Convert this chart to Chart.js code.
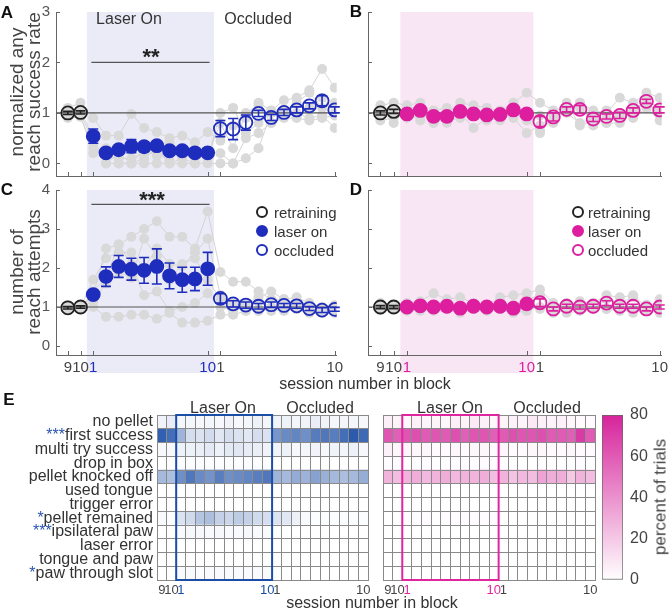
<!DOCTYPE html>
<html>
<head>
<meta charset="utf-8">
<title>Reaching with laser on / occluded</title>
<script src="https://cdn.jsdelivr.net/npm/chart.js@4.4.0/dist/chart.umd.min.js"></script>
<style>
  html, body { margin: 0; padding: 0; background: #fff; }
  body { position: relative; width: 670px; height: 614px; overflow: hidden;
         font-family: 'Liberation Sans', Arial, Helvetica, sans-serif; color: #333; }
  canvas { position: absolute; }
  .t { position: absolute; transform: translate(-50%, -50%); white-space: nowrap; line-height: 1; font-size: 16px; }
  .panel { font-weight: bold; font-size: 17px; color: #111; }
  .ytitle { font-size: 19px; line-height: 17px; text-align: center; color: #444;
            transform: translate(-50%, -50%) rotate(-90deg); }
  .stars { font-weight: bold; font-size: 22px; color: #222; }
  .leg { position: absolute; font-size: 15px; line-height: 1; transform: translateY(-50%); white-space: nowrap; color: #333; }
  .mk { position: absolute; box-sizing: border-box; width: 12px; height: 12px; border-radius: 50%;
        transform: translate(-50%, -50%); }
</style>
</head>
<body>
<canvas id="cA" width="345" height="185" style="left:0;top:0"></canvas>
<canvas id="cB" width="325" height="185" style="left:345px;top:0"></canvas>
<canvas id="cC" width="345" height="200" style="left:0;top:180px"></canvas>
<canvas id="cD" width="325" height="200" style="left:345px;top:180px"></canvas>
<canvas id="cEL" width="372" height="200" style="left:0;top:400px"></canvas>
<canvas id="cER" width="230" height="200" style="left:372px;top:400px"></canvas>
<canvas id="cCB" width="75" height="200" style="left:595px;top:400px"></canvas>

<div class="t panel" style="left:7px;top:12px">A</div>
<div class="t panel" style="left:356px;top:11px">B</div>
<div class="t panel" style="left:7px;top:189px">C</div>
<div class="t panel" style="left:356px;top:189px">D</div>
<div class="t panel" style="left:9px;top:399px">E</div>

<div class="t ytitle" style="left:25px;top:92px">normalized any<br>reach success rate</div>
<div class="t ytitle" style="left:25px;top:272px">number of<br>reach attempts</div>

<div class="t" style="left:129px;top:19px">Laser On</div>
<div class="t" style="left:258px;top:19px">Occluded</div>
<div class="t stars" style="left:151px;top:57px">**</div>
<div class="t stars" style="left:152px;top:200px">***</div>

<div class="mk" style="left:262px;top:212px;border:2px solid #222"></div>
<div class="leg" style="left:274px;top:212px">retraining</div>
<div class="mk" style="left:262px;top:231px;background:#1f2dbd;border:2px solid #1f2dbd"></div>
<div class="leg" style="left:274px;top:231px">laser on</div>
<div class="mk" style="left:262px;top:250px;border:2px solid #1f2dbd"></div>
<div class="leg" style="left:274px;top:250px">occluded</div>

<div class="mk" style="left:578px;top:212px;border:2px solid #222"></div>
<div class="leg" style="left:588px;top:212px">retraining</div>
<div class="mk" style="left:578px;top:231px;background:#dd1f9f;border:2px solid #dd1f9f"></div>
<div class="leg" style="left:588px;top:231px">laser on</div>
<div class="mk" style="left:578px;top:250px;border:2px solid #dd1f9f"></div>
<div class="leg" style="left:588px;top:250px">occluded</div>

<div class="t" style="left:365px;top:384px">session number in block</div>

<div class="t" style="left:223px;top:408px">Laser On</div>
<div class="t" style="left:320px;top:408px">Occluded</div>
<div class="t" style="left:450px;top:408px">Laser On</div>
<div class="t" style="left:547px;top:408px">Occluded</div>
<div class="t" style="left:372px;top:603px">session number in block</div>
<div class="t ytitle" style="left:660px;top:497px;font-size:17px">percent of trials</div>

<script>
// ---- data ----
// sessions: retraining 9-10, laser on 1-10, occluded 1-10
const sessionLabels = ['9','10','1','2','3','4','5','6','7','8','9','10','1','2','3','4','5','6','7','8','9','10'];
const labelledSessions = [0, 1, 2, 11, 12, 21];
const laserFirst = 2;
const laserLast = 11;

// A - normalized any reach success rate (blue group)
const successMeanBlue = [1.00, 1.01, 0.54, 0.21, 0.27, 0.34, 0.33, 0.35, 0.25, 0.25, 0.21, 0.21, 0.69, 0.68, 0.81, 0.99, 0.91, 1.01, 1.06, 1.14, 1.24, 1.06];
const successErrBlue  = [0.03, 0.03, 0.14, 0.05, 0.06, 0.13, 0.10, 0.08, 0.07, 0.08, 0.06, 0.07, 0.16, 0.21, 0.15, 0.06, 0.06, 0.06, 0.06, 0.06, 0.10, 0.06];
const successMiceBlue = [
  [1.10, 1.20, 0.90, 0.55, 0.55, 0.98, 0.70, 0.62, 0.50, 0.55, 0.42, 0.62, 0.45, 0.75, 0.90, 1.20, 1.05, 1.25, 1.30, 1.45, 1.87, 1.50],
  [0.90, 0.92, 0.30, 0.15, 0.10, 0.10, 0.20, 0.20, 0.05, 0.30, 0.20, 0.10, 1.00, 1.10, 0.60, 0.80, 1.00, 1.00, 0.95, 1.10, 1.30, 1.00],
  [1.00, 1.00, 0.40, 0.00, 0.20, 0.00, 0.30, 0.15, 0.40, 0.25, 0.20, 0.15, 0.80, 0.30, 1.00, 1.15, 0.80, 1.00, 1.20, 1.40, 1.10, 1.20],
  [0.95, 1.05, 0.50, 0.00, 0.00, 0.00, 0.00, 0.00, 0.00, 0.00, 0.00, 0.00, 0.00, 0.00, 0.50, 0.60, 0.80, 0.90, 0.90, 0.85, 0.90, 0.95],
  [1.05, 0.95, 0.20, 0.30, 0.00, 0.00, 0.10, 0.30, 0.00, 0.10, 0.00, 0.25, 0.20, 0.00, 0.10, 0.30, 1.00, 1.05, 1.00, 0.90, 0.95, 0.70]
];

// B - normalized any reach success rate (pink group)
const successMeanPink = [1.00, 1.03, 0.98, 1.05, 0.93, 0.93, 1.03, 0.98, 0.96, 0.97, 1.06, 0.98, 0.83, 0.92, 1.07, 1.07, 0.88, 0.93, 0.95, 1.05, 1.23, 1.06];
const successErrPink  = [0.04, 0.04, 0.05, 0.06, 0.07, 0.09, 0.05, 0.05, 0.05, 0.04, 0.05, 0.08, 0.10, 0.08, 0.05, 0.08, 0.05, 0.05, 0.06, 0.05, 0.04, 0.06];
const successMicePink = [
  [1.15, 1.20, 1.15, 1.20, 0.80, 1.00, 1.20, 1.15, 1.10, 1.05, 1.20, 1.40, 1.20, 1.05, 1.10, 1.20, 1.05, 1.00, 1.30, 1.20, 1.40, 1.30],
  [0.95, 1.00, 0.90, 0.95, 0.90, 0.80, 1.10, 0.95, 0.85, 0.90, 1.00, 0.85, 0.65, 0.85, 1.20, 0.75, 0.85, 1.05, 0.85, 1.10, 1.20, 1.00],
  [0.85, 0.90, 1.00, 0.85, 1.05, 1.10, 1.00, 0.70, 0.90, 1.00, 0.90, 0.60, 0.75, 0.95, 1.00, 0.80, 0.90, 0.80, 1.00, 0.90, 1.10, 0.85],
  [1.05, 0.80, 1.10, 1.10, 1.00, 0.85, 0.90, 1.10, 1.00, 0.95, 1.10, 1.00, 0.60, 0.95, 1.05, 1.20, 0.75, 0.90, 0.90, 1.00, 1.25, 1.10],
  [1.00, 1.10, 0.95, 1.00, 0.80, 0.90, 0.95, 1.00, 1.05, 0.85, 1.10, 0.90, 0.95, 0.80, 1.10, 1.10, 0.85, 0.80, 0.80, 1.05, 1.20, 0.95]
];

// C - number of reach attempts (blue group)
const attemptsMeanBlue = [0.98, 1.00, 1.32, 1.78, 2.04, 1.97, 1.94, 2.04, 1.80, 1.70, 1.72, 1.98, 1.22, 1.08, 1.05, 1.02, 1.06, 1.04, 1.03, 0.96, 0.92, 0.94];
const attemptsErrBlue  = [0.03, 0.03, 0.07, 0.25, 0.28, 0.28, 0.33, 0.45, 0.33, 0.32, 0.30, 0.42, 0.12, 0.08, 0.08, 0.07, 0.07, 0.05, 0.06, 0.05, 0.06, 0.05];
const attemptsMiceBlue = [
  [1.00, 1.00, 1.30, 2.50, 2.60, 2.80, 3.00, 3.20, 2.80, 2.80, 2.50, 3.45, 1.90, 1.65, 1.65, 1.40, 1.20, 1.20, 1.10, 1.05, 0.90, 0.95],
  [1.05, 1.00, 1.70, 2.25, 2.40, 2.40, 2.00, 2.50, 2.10, 2.05, 2.40, 2.75, 1.30, 1.10, 1.00, 1.15, 1.00, 0.95, 1.05, 1.00, 0.95, 0.90],
  [0.95, 0.98, 1.15, 1.60, 1.90, 1.75, 2.75, 2.30, 1.70, 2.10, 2.25, 1.70, 1.20, 1.00, 1.10, 1.25, 1.40, 1.20, 1.25, 1.10, 1.00, 1.05],
  [0.98, 1.02, 1.00, 0.75, 0.75, 0.80, 0.80, 0.70, 0.85, 0.60, 0.60, 0.65, 0.80, 0.80, 0.90, 0.95, 0.90, 1.05, 0.95, 0.90, 0.85, 0.85],
  [1.00, 0.97, 1.40, 1.75, 2.60, 2.10, 1.30, 1.40, 0.90, 1.00, 1.10, 1.35, 1.00, 0.90, 1.00, 0.90, 0.95, 0.90, 0.95, 0.85, 0.85, 0.95]
];

// D - number of reach attempts (pink group)
const attemptsMeanPink = [1.00, 1.00, 1.00, 1.03, 1.00, 1.02, 0.97, 1.02, 1.00, 1.02, 0.97, 1.08, 1.11, 0.95, 1.02, 1.00, 1.02, 1.10, 1.02, 1.02, 0.95, 1.00];
const attemptsErrPink  = [0.04, 0.04, 0.04, 0.04, 0.04, 0.05, 0.04, 0.04, 0.04, 0.04, 0.04, 0.08, 0.10, 0.05, 0.05, 0.05, 0.05, 0.06, 0.05, 0.05, 0.05, 0.05];
const attemptsMicePink = [
  [1.10, 1.05, 1.10, 1.15, 1.35, 1.20, 1.25, 1.10, 1.05, 1.25, 1.30, 1.35, 1.45, 1.10, 1.00, 1.15, 1.10, 1.30, 1.25, 1.30, 1.00, 1.10],
  [0.95, 1.00, 0.90, 1.00, 0.95, 1.10, 0.95, 1.05, 1.00, 1.15, 0.90, 1.20, 1.30, 0.85, 1.10, 1.00, 0.95, 1.20, 1.10, 1.25, 0.90, 1.20],
  [1.00, 0.95, 0.95, 0.90, 1.05, 0.95, 0.85, 0.95, 0.90, 1.00, 1.05, 1.00, 0.95, 0.95, 0.85, 0.90, 1.00, 0.95, 0.90, 0.95, 1.05, 0.90],
  [0.92, 0.98, 1.00, 1.05, 0.90, 1.00, 1.00, 0.95, 1.05, 0.95, 0.85, 0.90, 1.00, 1.05, 1.05, 0.95, 1.10, 0.95, 0.95, 0.85, 1.05, 0.85]
];

// E - percent of trials per outcome (rows) and session (columns)
const outcomeLabels = ['no pellet', 'first success', 'multi try success', 'drop in box', 'pellet knocked off',
  'used tongue', 'trigger error', 'pellet remained', 'ipsilateral paw', 'laser error', 'tongue and paw', 'paw through slot'];
const outcomeStars = ['', '***', '', '', '', '', '', '*', '***', '', '', '*'];
const outcomeBlue = [
  [5, 8, 4, 4, 3, 4, 3, 5, 3, 4, 6, 4, 5, 6, 4, 5, 7, 5, 4, 4, 4, 3],
  [68, 62, 32, 14, 12, 15, 10, 14, 12, 10, 14, 12, 45, 50, 52, 48, 56, 58, 55, 62, 70, 64],
  [3, 3, 6, 6, 7, 9, 6, 9, 10, 8, 7, 5, 5, 6, 3, 4, 5, 3, 5, 4, 6, 3],
  [0, 0, 1, 1, 1, 1, 1, 1, 1, 1, 1, 1, 0, 0, 0, 1, 0, 0, 0, 0, 0, 0],
  [30, 28, 48, 58, 50, 46, 55, 48, 50, 52, 55, 58, 32, 30, 36, 33, 40, 34, 30, 28, 30, 35],
  [0, 0, 0, 0, 0, 0, 0, 0, 0, 0, 0, 0, 0, 0, 0, 0, 0, 0, 0, 0, 0, 0],
  [0, 0, 0, 0, 0, 0, 0, 0, 0, 0, 0, 0, 0, 0, 0, 0, 0, 0, 0, 0, 0, 0],
  [2, 1, 12, 16, 25, 28, 20, 18, 22, 20, 16, 14, 12, 10, 6, 2, 1, 1, 1, 1, 1, 1],
  [0, 0, 2, 3, 3, 2, 3, 2, 2, 3, 2, 2, 1, 0, 0, 0, 0, 0, 0, 0, 0, 0],
  [0, 0, 0, 0, 0, 0, 0, 0, 0, 0, 0, 0, 0, 0, 0, 0, 0, 0, 0, 0, 0, 0],
  [0, 0, 0, 0, 0, 0, 0, 0, 0, 0, 0, 0, 0, 0, 0, 0, 0, 0, 0, 0, 0, 0],
  [0, 0, 2, 2, 1, 2, 2, 2, 2, 2, 2, 2, 1, 0, 0, 0, 0, 0, 0, 0, 0, 0]
];
const outcomePink = [
  [6, 4, 3, 5, 4, 4, 3, 6, 4, 8, 5, 3, 4, 5, 4, 8, 5, 4, 5, 3, 2, 2],
  [62, 58, 62, 64, 60, 62, 60, 64, 58, 62, 62, 58, 60, 64, 62, 62, 64, 60, 60, 58, 72, 60],
  [5, 3, 4, 3, 3, 2, 2, 3, 2, 3, 3, 2, 3, 2, 2, 3, 3, 2, 2, 3, 2, 2],
  [1, 1, 0, 1, 1, 0, 1, 1, 1, 1, 2, 1, 0, 1, 0, 0, 1, 0, 0, 0, 1, 0],
  [28, 24, 28, 30, 26, 28, 30, 26, 28, 28, 30, 24, 28, 22, 26, 24, 34, 30, 30, 20, 28, 24],
  [0, 0, 0, 0, 0, 0, 0, 0, 0, 0, 0, 0, 0, 0, 0, 0, 0, 0, 0, 0, 0, 0],
  [0, 0, 0, 0, 0, 0, 0, 0, 0, 0, 0, 0, 0, 0, 0, 0, 0, 0, 0, 0, 0, 0],
  [0, 0, 1, 1, 1, 0, 1, 1, 1, 1, 1, 1, 0, 0, 0, 0, 0, 0, 0, 0, 0, 0],
  [0, 0, 0, 0, 0, 0, 0, 0, 0, 0, 0, 0, 0, 0, 0, 0, 0, 0, 0, 0, 0, 0],
  [0, 0, 0, 0, 0, 0, 0, 0, 0, 0, 0, 0, 0, 0, 0, 0, 0, 0, 0, 0, 0, 0],
  [0, 0, 0, 0, 0, 0, 0, 0, 0, 0, 0, 0, 0, 0, 0, 0, 0, 0, 0, 0, 0, 0],
  [0, 0, 0, 0, 0, 0, 0, 0, 0, 0, 0, 0, 0, 0, 0, 0, 0, 0, 0, 0, 0, 0]
];
const colorbarTicks = [0, 20, 40, 60, 80];

// ---- styling ----
const BLUE = '#1f2dbd';
const PINK = '#dd1f9f';
const BLUE_HEAT = [14, 68, 162];
const PINK_HEAT = [214, 36, 155];
const AXIS = '#666';
const CELL_EDGE = '#8a8a8a';

Chart.defaults.font.family = "'Liberation Sans', Arial, Helvetica, sans-serif";
Chart.defaults.animation = false;
Chart.defaults.plugins.legend.display = false;
Chart.defaults.plugins.tooltip.enabled = false;

const isLaser = i => i >= laserFirst && i <= laserLast;

// shading, reference line, error bars, significance bar, inward ticks
const sessionDeco = {
  id: 'sessionDeco',
  beforeDraw(chart, args, o) {
    const {ctx, chartArea: a, scales: {x}} = chart;
    const x0 = x.getPixelForValue(laserFirst - 0.5);
    const x1 = x.getPixelForValue(laserLast + 0.5);
    ctx.save();
    ctx.fillStyle = o.shade;
    ctx.fillRect(x0, a.top, x1 - x0, a.bottom - a.top + o.shadeBelow);
    ctx.restore();
  },
  beforeDatasetDraw(chart, args) {
    if (!chart.data.datasets[args.index].isMean) return;
    const {ctx, chartArea: a, scales: {y}} = chart;
    const yy = y.getPixelForValue(1);
    ctx.save();
    ctx.strokeStyle = '#555';
    ctx.lineWidth = 1.2;
    ctx.beginPath(); ctx.moveTo(a.left, yy); ctx.lineTo(a.right, yy); ctx.stroke();
    ctx.restore();
  },
  afterDatasetsDraw(chart, args, o) {
    const {ctx, chartArea: a, scales: {x, y}} = chart;
    ctx.save();
    // error bars
    ctx.lineWidth = 1.6;
    o.mean.forEach((m, i) => {
      const px = x.getPixelForValue(i);
      const yt = y.getPixelForValue(m + o.err[i]);
      const yb = y.getPixelForValue(m - o.err[i]);
      ctx.strokeStyle = i < laserFirst ? '#222' : o.color;
      ctx.beginPath();
      ctx.moveTo(px, yt); ctx.lineTo(px, yb);
      ctx.moveTo(px - 5, yt); ctx.lineTo(px + 5, yt);
      ctx.moveTo(px - 5, yb); ctx.lineTo(px + 5, yb);
      ctx.stroke();
    });
    // significance bar
    if (o.sig) {
      const ys = y.getPixelForValue(o.sig.y);
      ctx.strokeStyle = '#555';
      ctx.lineWidth = 1.2;
      ctx.beginPath();
      ctx.moveTo(x.getPixelForValue(o.sig.from), ys);
      ctx.lineTo(x.getPixelForValue(o.sig.to), ys);
      ctx.stroke();
    }
    // inward tick marks
    ctx.strokeStyle = AXIS;
    ctx.lineWidth = 1;
    ctx.beginPath();
    labelledSessions.forEach(v => {
      const px = Math.round(x.getPixelForValue(v)) + 0.5;
      ctx.moveTo(px, a.bottom); ctx.lineTo(px, a.bottom - 4);
    });
    o.yTicks.forEach(v => {
      const py = Math.round(y.getPixelForValue(v)) + 0.5;
      ctx.moveTo(a.left, py); ctx.lineTo(a.left + 4, py);
    });
    ctx.stroke();
    ctx.restore();
  }
};

function sessionPanel(id, cfg) {
  const meanSet = {
    isMean: true,
    data: cfg.mean.map((v, i) => ({x: i, y: v})),
    showLine: false,
    pointRadius: 6.5,
    pointBorderWidth: 1.8,
    pointBackgroundColor: cfg.mean.map((v, i) => isLaser(i) ? cfg.color : 'rgba(0,0,0,0)'),
    pointBorderColor: cfg.mean.map((v, i) => i < laserFirst ? '#222' : cfg.color)
  };
  const miceSets = cfg.mice.map(m => ({
    data: m.map((v, i) => ({x: i, y: v})),
    showLine: true,
    borderColor: '#d4d4d4',
    borderWidth: 1,
    pointRadius: 5,
    pointBorderWidth: 0,
    pointBackgroundColor: '#d9d9d9'
  }));
  return new Chart(document.getElementById(id), {
    type: 'scatter',
    data: {datasets: [meanSet].concat(miceSets)},
    options: {
      responsive: false,
      layout: {padding: {top: cfg.padTop, right: cfg.padRight, left: 0, bottom: 0}},
      scales: {
        x: {
          type: 'linear', min: -0.93, max: 21.15,
          afterBuildTicks: s => { s.ticks = labelledSessions.map(v => ({value: v})); },
          afterFit: s => { s.height = cfg.xHeight; s.paddingLeft = 0; s.paddingRight = 0; },
          grid: {drawOnChartArea: false, drawTicks: false},
          border: {color: AXIS},
          ticks: {
            display: cfg.xLabels, autoSkip: false, maxRotation: 0, padding: 4,
            font: {size: 15},
            color: c => (c.tick && isLaser(c.tick.value)) ? cfg.color : '#444',
            callback: v => sessionLabels[v]
          }
        },
        y: {
          min: cfg.yMin, max: cfg.yMax,
          afterBuildTicks: s => { s.ticks = cfg.yTicks.map(v => ({value: v})); },
          afterFit: s => { s.width = cfg.yWidth; s.paddingTop = 0; s.paddingBottom = 0; },
          grid: {drawOnChartArea: false, drawTicks: false},
          border: {color: AXIS},
          ticks: {display: cfg.yLabels, padding: 6, font: {size: 15}, color: '#555'}
        }
      },
      plugins: {
        sessionDeco: {
          shade: cfg.shade, shadeBelow: cfg.shadeBelow, mean: cfg.mean, err: cfg.err,
          color: cfg.color, sig: cfg.sig, yTicks: cfg.yTicks
        }
      }
    },
    plugins: [sessionDeco]
  });
}

const rateTicks = [0, 1, 2, 3];
const attemptTicks = [0, 1, 2, 3, 4];

sessionPanel('cA', {mean: successMeanBlue, err: successErrBlue, mice: successMiceBlue, color: BLUE,
  shade: '#ebebf8', shadeBelow: 0, yMin: -0.25, yMax: 3, yTicks: rateTicks, yLabels: true, xLabels: false,
  yWidth: 56, xHeight: 9, padTop: 12, padRight: 3, sig: {y: 2, from: 1.85, to: 11.15}});
sessionPanel('cB', {mean: successMeanPink, err: successErrPink, mice: successMicePink, color: PINK,
  shade: '#f9e6f4', shadeBelow: 0, yMin: -0.25, yMax: 3, yTicks: rateTicks, yLabels: false, xLabels: false,
  yWidth: 23, xHeight: 9, padTop: 12, padRight: 5});
sessionPanel('cC', {mean: attemptsMeanBlue, err: attemptsErrBlue, mice: attemptsMiceBlue, color: BLUE,
  shade: '#ebebf8', shadeBelow: 18, yMin: -0.23, yMax: 4, yTicks: attemptTicks, yLabels: true, xLabels: true,
  yWidth: 56, xHeight: 25, padTop: 10, padRight: 3, sig: {y: 3.63, from: 1.85, to: 11.15}});
sessionPanel('cD', {mean: attemptsMeanPink, err: attemptsErrPink, mice: attemptsMicePink, color: PINK,
  shade: '#f9e6f4', shadeBelow: 18, yMin: -0.23, yMax: 4, yTicks: attemptTicks, yLabels: false, xLabels: true,
  yWidth: 23, xHeight: 25, padTop: 10, padRight: 5});

// ---- heatmaps ----
const colorMax = colorbarTicks[colorbarTicks.length - 1];
function heatColor(rgb, v) {
  const f = Math.max(0, Math.min(1, v / colorMax));
  const c = rgb.map(k => Math.round(255 - f * (255 - k)));
  return `rgb(${c[0]},${c[1]},${c[2]})`;
}

const heatDeco = {
  id: 'heatDeco',
  afterDraw(chart, args, o) {
    const {ctx, chartArea: a, scales: {x, y}} = chart;
    const half = (x.getPixelForValue(1) - x.getPixelForValue(0)) / 2;
    ctx.save();
    ctx.strokeStyle = o.boxColor;
    ctx.lineWidth = 2;
    const x0 = x.getPixelForValue(laserFirst) - half;
    const x1 = x.getPixelForValue(laserLast) + half;
    ctx.strokeRect(x0, a.top, x1 - x0, a.bottom - a.top);
    if (o.rowLabels) {
      ctx.font = "16px 'Liberation Sans', Arial, sans-serif";
      ctx.textAlign = 'right';
      ctx.textBaseline = 'middle';
      const n = outcomeLabels.length;
      outcomeLabels.forEach((lab, r) => {
        const py = y.getPixelForValue(n - r - 0.5);
        const px = a.left - 4;
        ctx.fillStyle = '#333';
        ctx.fillText(lab, px, py);
        if (outcomeStars[r]) {
          ctx.fillStyle = '#2a55b0';
          ctx.fillText(outcomeStars[r], px - ctx.measureText(lab).width, py);
        }
      });
    }
    ctx.restore();
  }
};

function heatmap(id, cfg) {
  const datasets = [];
  for (let r = cfg.values.length - 1; r >= 0; r--) {
    const row = cfg.values[r];
    datasets.push({
      data: row.map(() => 1),
      backgroundColor: row.map(v => heatColor(cfg.rgb, v)),
      borderWidth: 0,
      barPercentage: 1,
      categoryPercentage: 1
    });
  }
  return new Chart(document.getElementById(id), {
    type: 'bar',
    data: {labels: sessionLabels, datasets},
    options: {
      responsive: false,
      layout: {padding: {top: 15, right: cfg.padRight, left: 0, bottom: 0}},
      scales: {
        x: {
          stacked: true,
          grid: {offset: true, color: CELL_EDGE, drawTicks: false, z: 1},
          border: {color: CELL_EDGE, z: 1},
          afterFit: s => { s.height = 20; s.paddingLeft = 0; s.paddingRight = 0; },
          ticks: {
            autoSkip: false, maxRotation: 0, padding: 3, font: {size: 13},
            color: c => isLaser(c.index) ? cfg.color : '#444',
            callback: (v, i) => labelledSessions.includes(i) ? sessionLabels[i] : ''
          }
        },
        y: {
          stacked: true, min: 0, max: outcomeLabels.length,
          afterBuildTicks: s => { s.ticks = outcomeLabels.map((_, i) => ({value: i})).concat([{value: outcomeLabels.length}]); },
          afterFit: s => { s.width = cfg.yWidth; s.paddingTop = 0; s.paddingBottom = 0; },
          grid: {color: CELL_EDGE, drawTicks: false, z: 1},
          border: {color: CELL_EDGE, z: 1},
          ticks: {display: false}
        }
      },
      plugins: {heatDeco: {boxColor: cfg.color, rowLabels: cfg.rowLabels}}
    },
    plugins: [heatDeco]
  });
}

heatmap('cEL', {values: outcomeBlue, rgb: BLUE_HEAT, color: '#1a4ea6', rowLabels: true, yWidth: 157, padRight: 4});
heatmap('cER', {values: outcomePink, rgb: PINK_HEAT, color: '#e0269e', rowLabels: false, yWidth: 11, padRight: 7});

// ---- colorbar ----
new Chart(document.getElementById('cCB'), {
  type: 'bar',
  data: {
    labels: [''],
    datasets: [{
      data: [colorMax],
      barPercentage: 1, categoryPercentage: 1,
      borderWidth: 1, borderColor: '#666', borderSkipped: false,
      backgroundColor: c => {
        const a = c.chart.chartArea;
        if (!a) return heatColor(PINK_HEAT, colorMax);
        const g = c.chart.ctx.createLinearGradient(0, a.bottom, 0, a.top);
        g.addColorStop(0, '#ffffff');
        g.addColorStop(1, heatColor(PINK_HEAT, colorMax));
        return g;
      }
    }]
  },
  options: {
    responsive: false,
    layout: {padding: {top: 15, left: 7, bottom: 20, right: 0}},
    scales: {
      x: {display: false},
      y: {
        position: 'right', min: 0, max: colorMax,
        afterBuildTicks: s => { s.ticks = colorbarTicks.map(v => ({value: v})); },
        afterFit: s => { s.width = 47; s.paddingTop = 0; s.paddingBottom = 0; },
        grid: {drawOnChartArea: false, drawTicks: false},
        border: {display: false},
        ticks: {padding: 7, font: {size: 16}, color: '#444'}
      }
    }
  }
});
</script>
</body>
</html>
